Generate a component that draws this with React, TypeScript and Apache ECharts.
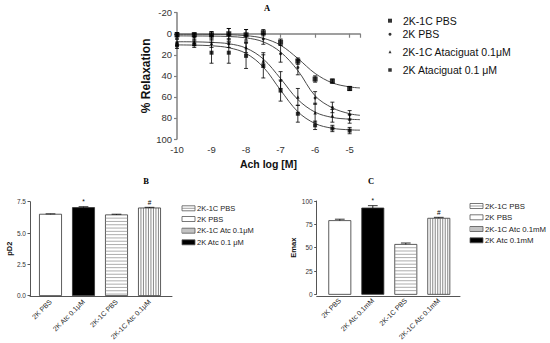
import React, { useEffect, useRef } from "react";
import * as echarts from "echarts";

const FONT = "'Liberation Sans', Arial, sans-serif";
const SERIF = "'Liberation Serif', 'DejaVu Serif', serif";

// ---------- Panel A: concentration-response ----------
const logDose = [-10, -9.5, -9, -8.5, -8, -7.5, -7, -6.5, -6, -5.5, -5];
const fitDose = [-10, -9.5, -9, -8.5, -8, -7.5, -7, -6.5, -6, -5.5, -5, -4.7];
const groupNames = ["2K-1C PBS", "2K PBS", "2K-1C Ataciguat 0.1μM", "2K Ataciguat 0.1 μM"];

const relax2K1CPBS = [1, 1, 1, 0, 1, -1, 8, 26, 43, 45, 52];
const relax2KPBS = [2, 3, 2, 1, 2, 5, 19, 32, 61, 70, 77];
const relax2K1CAtc = [8, 8, 9, 9, 13, 26, 44, 60, 75, 78, 81];
const relax2KAtc = [11, 10, 18, 18, 21, 30, 54, 76, 87, 90, 92];

const sem2K1CPBS = [2, 2, 3, 5, 5, 3, 3, 3, 3, 2, 2];
const sem2KPBS = [3, 3, 4, 6, 6, 5, 8, 7, 6, 5, 4];
const sem2K1CAtc = [3, 3, 4, 4, 5, 6, 8, 8, 9, 6, 4];
const sem2KAtc = [3, 3, 10, 10, 12, 12, 10, 8, 4, 3, 3];

// fitted curves
const fit2K1CPBS = [0.5, 0.5, 0.6, 0.9, 1.8, 4.3, 10.9, 23.5, 37.7, 46.7, 50.5, 51.5];
const fit2KPBS = [2, 2.1, 2.2, 2.6, 3.9, 7.7, 17.4, 35, 59, 70.4, 76, 77.5];
const fit2K1CAtc = [7.6, 7.7, 8.2, 9.5, 13.6, 24, 42.6, 62.5, 74.5, 79.5, 81.2, 81.6];
const fit2KAtc = [10.6, 10.8, 11.4, 13.3, 18.7, 31.7, 53.6, 74.1, 85.3, 89.8, 91.3, 91.6];

const symbols = ["rect", "circle", "triangle", "rect"];
const symbolSizes = [5, 3, 3.5, 4];
const legendIconSizes = [4, 3, 3, 3.5];
const legendCentersA = [20.7, 34.3, 51.7, 70];

// ---------- Panels B and C ----------
const categoriesB = ["2K PBS", "2K Atc 0.1μM", "2K-1C PBS", "2K-1C Atc 0.1μM"];
const pD2 = [6.5, 7.03, 6.45, 7.0];
const pD2Sem = [0.03, 0.07, 0.05, 0.05];
const categoriesC = ["2K PBS", "2K Atc 0.1mM", "2K-1C PBS", "2K-1C Atc 0.1mM"];
const emax = [79, 92.5, 53.5, 81.5];
const emaxSem = [1.5, 2.5, 1.5, 1];
const sigMarks = ["", "*", "", "#"];
const barFills = ["white", "black", "hstripe", "vstripe"];

const legendLabelsB = ["2K-1C PBS", "2K PBS", "2K-1C Atc 0.1μM", "2K Atc 0.1 μM"];
const legendLabelsC = ["2K-1C PBS", "2K PBS", "2K-1C Atc 0.1mM", "2K Atc 0.1mM"];
const legendFills = ["hstripe", "white", "vstripe", "black"];

function makeBarRenderer(fills: string[], marks: string[], sem: number[]) {
  return (params: any, api: any) => {
    const i = api.value(0);
    const v = api.value(1);
    const e = sem[params.dataIndex];
    const base = api.coord([i, 0]);
    const top = api.coord([i, v]);
    const errTop = api.coord([i, v + e]);
    const bw = api.size([1, 0])[0] * 0.67;
    const x0 = base[0] - bw / 2;
    const h = base[1] - top[1];
    const kind = fills[params.dataIndex];
    const children: any[] = [];
    children.push({
      type: "rect",
      shape: { x: x0, y: top[1], width: bw, height: h },
      style: { fill: kind === "black" ? "#000" : "#fff", stroke: "#333", lineWidth: 0.8 },
    });
    if (kind === "hstripe") {
      for (let y = top[1] + 3.3; y < base[1] - 0.5; y += 3.3) {
        children.push({ type: "line", shape: { x1: x0, y1: y, x2: x0 + bw, y2: y }, style: { stroke: "#8a8a8a", lineWidth: 0.7 } });
      }
    }
    if (kind === "vstripe") {
      for (let x = x0 + 2.5; x < x0 + bw - 0.5; x += 2.5) {
        children.push({ type: "line", shape: { x1: x, y1: top[1], x2: x, y2: base[1] }, style: { stroke: "#555", lineWidth: 0.7 } });
      }
    }
    const capHalf = bw * 0.22;
    children.push({ type: "line", shape: { x1: base[0], y1: top[1], x2: base[0], y2: errTop[1] }, style: { stroke: "#000", lineWidth: 0.8 } });
    children.push({ type: "line", shape: { x1: base[0] - capHalf, y1: errTop[1], x2: base[0] + capHalf, y2: errTop[1] }, style: { stroke: "#000", lineWidth: 0.8 } });
    const m = marks[params.dataIndex];
    if (m) {
      children.push({
        type: "text",
        x: base[0],
        y: errTop[1] - 1.5,
        style: { text: m, fontSize: 6.5, fontFamily: FONT, fill: "#000", align: "center", verticalAlign: "bottom" },
      });
    }
    return { type: "group", children };
  };
}

function errorRenderer(sem: number[]) {
  return (params: any, api: any) => {
    const x = api.value(0);
    const y = api.value(1);
    const e = sem[params.dataIndex];
    const a = api.coord([x, y - e]);
    const b = api.coord([x, y + e]);
    const w = 2;
    const st = { stroke: "#000", lineWidth: 0.8 };
    return {
      type: "group",
      children: [
        { type: "line", shape: { x1: a[0], y1: a[1], x2: b[0], y2: b[1] }, style: st },
        { type: "line", shape: { x1: a[0] - w, y1: a[1], x2: a[0] + w, y2: a[1] }, style: st },
        { type: "line", shape: { x1: b[0] - w, y1: b[1], x2: b[0] + w, y2: b[1] }, style: st },
      ],
    };
  };
}

function swatch(x: number, yc: number, kind: string) {
  const w = 13;
  const h = 5;
  const y = yc - h / 2;
  const children: any[] = [
    { type: "rect", shape: { x, y, width: w, height: h }, style: { fill: kind === "black" ? "#000" : "#fff", stroke: "#555", lineWidth: 0.8 } },
  ];
  if (kind === "hstripe") {
    children.push({ type: "line", shape: { x1: x, y1: yc, x2: x + w, y2: yc }, style: { stroke: "#777", lineWidth: 0.7 } });
  }
  if (kind === "vstripe") {
    for (let xx = x + 2; xx < x + w; xx += 2) {
      children.push({ type: "line", shape: { x1: xx, y1: y, x2: xx, y2: y + h }, style: { stroke: "#555", lineWidth: 0.7 } });
    }
  }
  return { type: "group", children };
}

function barLegend(xs: number, centers: number[], labels: string[], fontSize: number) {
  const out: any[] = [];
  labels.forEach((lab, i) => {
    out.push(swatch(xs, centers[i], legendFills[i]));
    out.push({
      type: "text",
      x: xs + 15,
      y: centers[i],
      style: { text: lab, fontSize, fontFamily: FONT, fill: "#222", verticalAlign: "middle", align: "left" },
    });
  });
  return out;
}

export default function App() {
  const ref = useRef<HTMLDivElement>(null);
  useEffect(() => {
    if (!ref.current) return;
    const chart = echarts.init(ref.current, undefined, { renderer: "svg" });

    const relax = [relax2K1CPBS, relax2KPBS, relax2K1CAtc, relax2KAtc];
    const sems = [sem2K1CPBS, sem2KPBS, sem2K1CAtc, sem2KAtc];
    const fits = [fit2K1CPBS, fit2KPBS, fit2K1CAtc, fit2KAtc];

    const axisGrayA = { lineStyle: { color: "#808080", width: 1.5 } };
    const labelA = { fontSize: 9.5, fontFamily: FONT, color: "#333" };

    const series: any[] = [];
    fits.forEach((f, k) => {
      series.push({
        type: "line",
        name: "fit" + k,
        xAxisIndex: 0,
        yAxisIndex: 0,
        data: fitDose.map((x, i) => [x, f[i]]),
        smooth: 0.35,
        showSymbol: false,
        symbol: "none",
        lineStyle: { color: "#4a4a4a", width: 1 },
        silent: true,
        z: 2,
      });
    });
    relax.forEach((r, k) => {
      series.push({
        type: "custom",
        name: "err" + k,
        xAxisIndex: 0,
        yAxisIndex: 0,
        data: logDose.map((x, i) => [x, r[i]]),
        renderItem: errorRenderer(sems[k]),
        z: 3,
      });
      series.push({
        type: "scatter",
        name: groupNames[k],
        xAxisIndex: 0,
        yAxisIndex: 0,
        data: logDose.map((x, i) => [x, r[i]]),
        symbol: symbols[k],
        symbolSize: symbolSizes[k],
        itemStyle: { color: "#000" },
        z: 4,
      });
    });

    series.push({
      type: "custom",
      name: "barsB",
      xAxisIndex: 1,
      yAxisIndex: 1,
      data: pD2.map((v, i) => [i, v]),
      renderItem: makeBarRenderer(barFills, sigMarks, pD2Sem),
    });
    series.push({
      type: "custom",
      name: "barsC",
      xAxisIndex: 3,
      yAxisIndex: 3,
      data: emax.map((v, i) => [i, v]),
      renderItem: makeBarRenderer(barFills, sigMarks, emaxSem),
    });

    const barYAxis = (gridIndex: number, max: number, interval: number, dec: number, name: string, offset: number) => ({
      type: "value",
      gridIndex,
      min: 0,
      max,
      interval,
      offset,
      axisLine: { show: true, lineStyle: { color: "#555", width: 1 } },
      axisTick: { show: true, length: 2.5, lineStyle: { color: "#555" } },
      splitLine: { show: false },
      axisLabel: { fontSize: 6.5, fontFamily: FONT, color: "#333", margin: 4, formatter: (v: number) => v.toFixed(dec) },
      name,
      nameLocation: "middle",
      nameGap: 13,
      nameTextStyle: { fontSize: 7.5, fontWeight: "bold", fontFamily: FONT, color: "#111" },
    });
    const hiddenY = (gridIndex: number) => ({ type: "value", gridIndex, show: false, min: 0, max: 1 });
    const catX = (gridIndex: number, data: string[]) => ({
      type: "category",
      gridIndex,
      data,
      axisLine: { show: false },
      axisTick: { show: false },
      axisLabel: { rotate: 45, fontSize: 7, fontFamily: FONT, color: "#222", interval: 0, margin: 5 },
    });
    const lineX = (gridIndex: number) => ({
      type: "value",
      gridIndex,
      min: 0,
      max: 1,
      axisLine: { show: true, lineStyle: { color: "#555", width: 1 } },
      axisTick: { show: false },
      axisLabel: { show: false },
      splitLine: { show: false },
    });

    const option: any = {
      animation: false,
      grid: [
        { left: 177, top: 12.7, width: 183, height: 126.3 },
        { left: 34, top: 201.7, width: 132, height: 95 },
        { left: 30, top: 201.7, width: 142, height: 95 },
        { left: 323.3, top: 201, width: 132, height: 95 },
        { left: 316.7, top: 201, width: 143.3, height: 95 },
      ],
      xAxis: [
        {
          type: "value",
          gridIndex: 0,
          min: -10,
          max: -4.7,
          interval: 1,
          axisLine: { show: true, ...axisGrayA },
          axisTick: { show: true, length: 4, lineStyle: { color: "#808080", width: 1.2 } },
          splitLine: { show: false },
          axisLabel: { ...labelA, margin: 5, formatter: (v: number) => (Number.isInteger(v) ? String(v) : "") },
          name: "Ach log [M]",
          nameLocation: "middle",
          nameGap: 19,
          nameTextStyle: { fontSize: 10.5, fontWeight: "bold", fontFamily: FONT, color: "#111" },
        },
        catX(1, categoriesB),
        lineX(2),
        catX(3, categoriesC),
        lineX(4),
      ],
      yAxis: [
        {
          type: "value",
          gridIndex: 0,
          inverse: true,
          min: -20,
          max: 100,
          interval: 20,
          axisLine: { show: true, ...axisGrayA },
          axisTick: { show: true, length: 3, lineStyle: { color: "#808080", width: 1.2 } },
          splitLine: { show: false },
          axisLabel: { ...labelA, margin: 5 },
          name: "% Relaxation",
          nameLocation: "middle",
          nameGap: 21,
          nameTextStyle: { fontSize: 12, fontWeight: "bold", fontFamily: FONT, color: "#111" },
        },
        barYAxis(1, 7.5, 2.5, 1, "pD2", 4),
        hiddenY(2),
        barYAxis(3, 100, 25, 0, "Emax", 6.6),
        hiddenY(4),
      ],
      legend: groupNames.map((n, i) => ({
        data: [n],
        left: 390 - legendIconSizes[i] / 2,
        top: legendCentersA[i] - 6.5,
        padding: 0,
        itemGap: 0,
        itemWidth: legendIconSizes[i],
        itemHeight: legendIconSizes[i],
        selectedMode: false,
        textStyle: { fontSize: 10.5, fontFamily: FONT, color: "#111", padding: [0, 0, 0, 6], lineHeight: 13 },
      })),
      graphic: [
        { type: "text", x: 267, y: 8, style: { text: "A", fontSize: 8.5, fontWeight: "bold", fontFamily: SERIF, fill: "#000", align: "center", verticalAlign: "middle" } },
        { type: "text", x: 146, y: 181, style: { text: "B", fontSize: 8.5, fontWeight: "bold", fontFamily: SERIF, fill: "#000", align: "center", verticalAlign: "middle" } },
        { type: "text", x: 371, y: 181, style: { text: "C", fontSize: 8.5, fontWeight: "bold", fontFamily: SERIF, fill: "#000", align: "center", verticalAlign: "middle" } },
        ...barLegend(182, [208.3, 219, 230.7, 242.3], legendLabelsB, 7.5),
        ...barLegend(470, [206, 217.3, 229, 240.3], legendLabelsC, 7.8),
      ],
      series,
    };
    chart.setOption(option);
    return () => chart.dispose();
  }, []);
  return (
    <div
      ref={ref}
      style={{ position: "absolute", left: 0, top: 0, width: 550, height: 343, background: "#fff" }}
    />
  );
}
